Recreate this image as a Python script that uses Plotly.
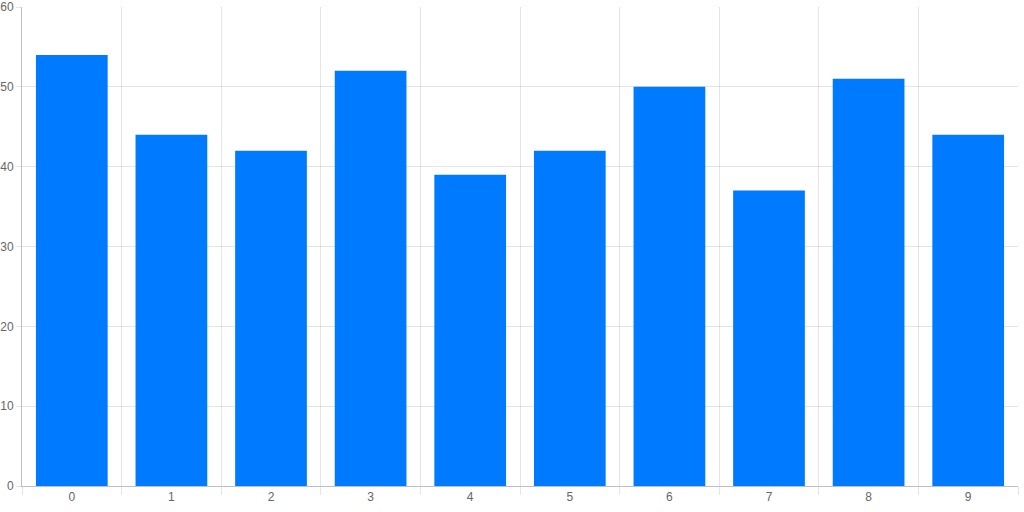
import plotly.graph_objects as go

categories = ["0", "1", "2", "3", "4", "5", "6", "7", "8", "9"]
values = [54, 44, 42, 52, 39, 42, 50, 37, 51, 44]
y_ticks = [0, 10, 20, 30, 40, 50, 60]

fig = go.Figure(
    go.Bar(
        x=categories,
        y=values,
        marker=dict(color="#007bff", line=dict(width=0)),
    )
)

grid = "rgba(0,0,0,0.1)"
fig.update_layout(
    width=1024,
    height=512,
    margin=dict(l=22, r=6, t=7, b=26),
    paper_bgcolor="white",
    plot_bgcolor="white",
    bargap=0.28,
    showlegend=False,
    font=dict(family="Liberation Sans, Arial, sans-serif", size=12, color="#666"),
    xaxis=dict(
        type="category",
        automargin=False,
        tickson="boundaries",
        ticks="outside",
        ticklen=8,
        tickcolor=grid,
        showgrid=True,
        gridcolor=grid,
        gridwidth=1,
        showline=True,
        linecolor="rgba(0,0,0,0.25)",
        linewidth=1,
        zeroline=False,
    ),
    yaxis=dict(
        automargin=False,
        range=[0, 60.0001],
        tickvals=y_ticks,
        ticklabeloverflow="allow",
        ticks="outside",
        ticklen=5,
        tickcolor=grid,
        showgrid=True,
        gridcolor=grid,
        gridwidth=1,
        showline=True,
        linecolor="rgba(0,0,0,0.25)",
        linewidth=1,
        zeroline=False,
    ),
)

fig.write_html(
    "out.html",
    config={"displayModeBar": False},
    post_script="document.body.style.margin='0';document.body.style.overflow='hidden';",
)
